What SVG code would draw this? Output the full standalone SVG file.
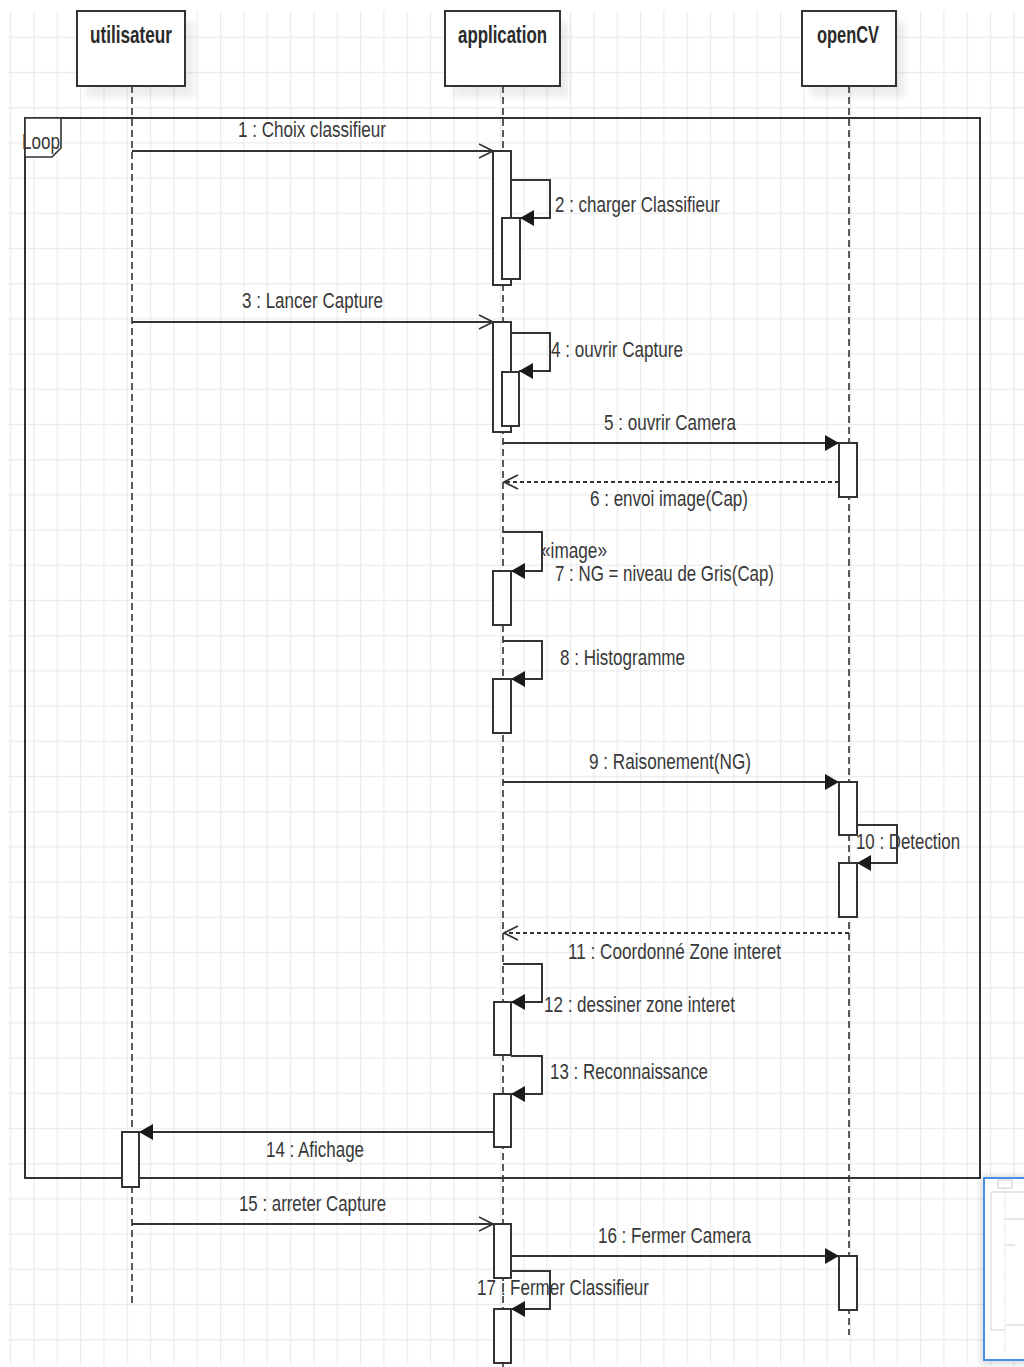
<svg xmlns="http://www.w3.org/2000/svg" width="1024" height="1367" viewBox="0 0 1024 1367">
<defs>
<style>
.ln{stroke:#333;stroke-width:2;fill:none}
.ret{stroke:#333;stroke-width:2;stroke-dasharray:4 3;fill:none}
.ll{stroke:#333;stroke-width:1.6;stroke-dasharray:7 4;fill:none}
.act{fill:#fff;stroke:#333;stroke-width:2}
.hdr{fill:#fff;stroke:#333;stroke-width:2}
.shd{fill:#000;opacity:0.07}
.lbl{font-family:"Liberation Sans",Arial,sans-serif;font-size:22px;fill:#383838}
.ht{font-family:"Liberation Sans",Arial,sans-serif;font-size:23px;font-weight:bold;fill:#2a2a2a}
</style>
<pattern id="grid" patternUnits="userSpaceOnUse" x="10" y="1.5" width="23.333" height="35.2">
<path d="M0.6,0 V35.2 M0,0.6 H23.333" stroke="#ebebeb" stroke-width="1.2" fill="none"/>
</pattern>
<filter id="blur" x="-20%" y="-20%" width="140%" height="140%"><feGaussianBlur stdDeviation="3"/></filter>
<marker id="fa" viewBox="0 0 14 16" refX="14" refY="8" markerWidth="14" markerHeight="16" markerUnits="userSpaceOnUse" orient="auto"><path d="M0,0 L14,8 L0,16 z" fill="#1a1a1a"/></marker>
<marker id="oa" viewBox="0 0 16 16" refX="15" refY="8" markerWidth="16" markerHeight="16" markerUnits="userSpaceOnUse" orient="auto"><path d="M1,1 L15,8 L1,15" fill="none" stroke="#333" stroke-width="1.6"/></marker>
</defs>

<rect x="0" y="0" width="1024" height="1367" fill="#fff"/>
<rect x="8" y="11" width="1016" height="1354" fill="url(#grid)"/>

<g id="loop-frame">
<rect x="25" y="118" width="955" height="1060" fill="none" stroke="#333" stroke-width="2"/>
<polygon points="25,118 61,118 61,148 52,157 25,157" fill="#fff" stroke="#333" stroke-width="1.6"/>
<text class="lbl" x="22" y="149" font-size="20" textLength="38" lengthAdjust="spacingAndGlyphs">Loop</text>
</g>

<g id="utilisateur">
<rect class="shd" x="86" y="22" width="108" height="75" filter="url(#blur)"/>
<rect class="hdr" x="77" y="11" width="108" height="75"/>
<text class="ht" x="90" y="43" textLength="82" lengthAdjust="spacingAndGlyphs">utilisateur</text>
<line class="ll" x1="132" y1="86" x2="132" y2="1305"/>
</g>

<g id="application">
<rect class="shd" x="454" y="22" width="115" height="75" filter="url(#blur)"/>
<rect class="hdr" x="445" y="11" width="115" height="75"/>
<text class="ht" x="458" y="43" textLength="89" lengthAdjust="spacingAndGlyphs">application</text>
<line class="ll" x1="503" y1="86" x2="503" y2="1367"/>
</g>

<g id="openCV">
<rect class="shd" x="811" y="22" width="94" height="75" filter="url(#blur)"/>
<rect class="hdr" x="802" y="11" width="94" height="75"/>
<text class="ht" x="817" y="43" textLength="62" lengthAdjust="spacingAndGlyphs">openCV</text>
<line class="ll" x1="849" y1="86" x2="849" y2="1335"/>
</g>

<g id="connectors">
<path class="ln" d="M132,151 H493" marker-end="url(#oa)"/>
<text class="lbl" x="238" y="137" textLength="148" lengthAdjust="spacingAndGlyphs">1 : Choix classifieur</text>
<path class="ln" d="M511,180 H550 V218 H520" marker-end="url(#fa)"/>
<text class="lbl" x="555" y="212" textLength="165" lengthAdjust="spacingAndGlyphs">2 : charger Classifieur</text>
<path class="ln" d="M132,322 H493" marker-end="url(#oa)"/>
<text class="lbl" x="242" y="308" textLength="141" lengthAdjust="spacingAndGlyphs">3 : Lancer Capture</text>
<path class="ln" d="M511,333 H550 V371 H519" marker-end="url(#fa)"/>
<text class="lbl" x="551" y="357" textLength="132" lengthAdjust="spacingAndGlyphs">4 : ouvrir Capture</text>
<path class="ln" d="M503,443 H839" marker-end="url(#fa)"/>
<text class="lbl" x="604" y="430" textLength="132" lengthAdjust="spacingAndGlyphs">5 : ouvrir Camera</text>
<path class="ret" d="M839,482 H504" marker-end="url(#oa)"/>
<text class="lbl" x="590" y="506" textLength="158" lengthAdjust="spacingAndGlyphs">6 : envoi image(Cap)</text>
<path class="ln" d="M503,532 H542 V571 H511" marker-end="url(#fa)"/>
<text class="lbl" x="541" y="558" textLength="66" lengthAdjust="spacingAndGlyphs">«image»</text>
<text class="lbl" x="555" y="581" textLength="219" lengthAdjust="spacingAndGlyphs">7 : NG = niveau de Gris(Cap)</text>
<path class="ln" d="M503,641 H542 V679 H511" marker-end="url(#fa)"/>
<text class="lbl" x="560" y="665" textLength="125" lengthAdjust="spacingAndGlyphs">8 : Histogramme</text>
<path class="ln" d="M503,782 H839" marker-end="url(#fa)"/>
<text class="lbl" x="589" y="769" textLength="162" lengthAdjust="spacingAndGlyphs">9 : Raisonement(NG)</text>
<path class="ln" d="M857,825 H897 V863 H857" marker-end="url(#fa)"/>
<text class="lbl" x="856" y="849" textLength="104" lengthAdjust="spacingAndGlyphs">10 : Detection</text>
<path class="ret" d="M849,933 H504" marker-end="url(#oa)"/>
<text class="lbl" x="568" y="959" textLength="213" lengthAdjust="spacingAndGlyphs">11 : Coordonné Zone interet</text>
<path class="ln" d="M503,964 H542 V1002 H511" marker-end="url(#fa)"/>
<text class="lbl" x="544" y="1012" textLength="191" lengthAdjust="spacingAndGlyphs">12 : dessiner zone interet</text>
<path class="ln" d="M511,1056 H542 V1094 H511" marker-end="url(#fa)"/>
<text class="lbl" x="550" y="1079" textLength="158" lengthAdjust="spacingAndGlyphs">13 : Reconnaissance</text>
<path class="ln" d="M494,1132 H139" marker-end="url(#fa)"/>
<text class="lbl" x="266" y="1157" textLength="98" lengthAdjust="spacingAndGlyphs">14 : Afichage</text>
<path class="ln" d="M132,1224 H493" marker-end="url(#oa)"/>
<text class="lbl" x="239" y="1211" textLength="147" lengthAdjust="spacingAndGlyphs">15 : arreter Capture</text>
<path class="ln" d="M511,1256 H839" marker-end="url(#fa)"/>
<text class="lbl" x="598" y="1243" textLength="153" lengthAdjust="spacingAndGlyphs">16 : Fermer Camera</text>
<path class="ln" d="M511,1271 H550 V1309 H511" marker-end="url(#fa)"/>
</g>

<g id="activations">
<rect class="act" x="493" y="151" width="18" height="134"/>
<rect class="act" x="502" y="218" width="18" height="61"/>
<rect class="act" x="493" y="322" width="18" height="110"/>
<rect class="act" x="502" y="372" width="17" height="54"/>
<rect class="act" x="839" y="443" width="18" height="54"/>
<rect class="act" x="493" y="571" width="18" height="54"/>
<rect class="act" x="493" y="679" width="18" height="54"/>
<rect class="act" x="839" y="782" width="18" height="53"/>
<rect class="act" x="839" y="863" width="18" height="54"/>
<rect class="act" x="494" y="1002" width="17" height="53"/>
<rect class="act" x="494" y="1094" width="17" height="53"/>
<rect class="act" x="122" y="1132" width="17" height="55"/>
<rect class="act" x="494" y="1224" width="17" height="54"/>
<rect class="act" x="839" y="1256" width="18" height="54"/>
<rect class="act" x="494" y="1309" width="17" height="54"/>
</g>
<text class="lbl" x="477" y="1295" textLength="172" lengthAdjust="spacingAndGlyphs">17 : Fermer Classifieur</text>

<g id="outline-panel">
<rect x="980" y="1175" width="50" height="190" fill="#000" opacity="0.12" filter="url(#blur)"/>
<rect x="984" y="1178" width="45" height="182" fill="#fff" stroke="#4a8fe7" stroke-width="2"/>
<rect x="998" y="1180" width="14" height="8" fill="none" stroke="#aaa" stroke-width="0.6"/>
<path d="M991,1192 H1024 M991,1192 V1330 H1005 M1005,1219 H1024 M1005,1245 H1015 M1006,1325 H1024" stroke="#bbb" stroke-width="0.7" fill="none"/>
<path d="M1005,1188 V1352" stroke="#ccc" stroke-width="0.6" stroke-dasharray="2 1" fill="none"/>
</g>
</svg>
